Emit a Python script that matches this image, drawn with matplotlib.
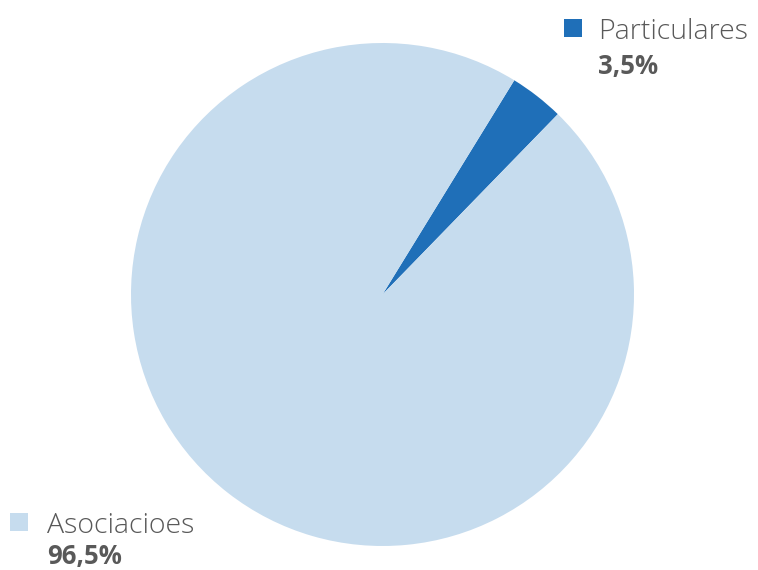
import matplotlib.pyplot as plt
from matplotlib.patches import Rectangle

labels = ['Particulares', 'Asociacioes']
shares = [3.5, 96.5]
pct_text = ['3,5%', '96,5%']
colors = ['#1f6fb8', '#c6dcee']

W, H = 758, 570
fig = plt.figure(figsize=(W / 100, H / 100), dpi=100)
ax = fig.add_axes([131 / W, 24 / H, 503 / W, 503 / H])
ax.pie(shares, colors=colors, startangle=58.4, counterclock=False,
       wedgeprops=dict(linewidth=0))
ax.set_xlim(-1, 1)
ax.set_ylim(-1, 1)
ax.set_aspect('equal')
ax.axis('off')

txt = '#595959'
# legend entries: (square x, square top y, text x, label baseline y, pct baseline y)
pos = [(564, 19, 598, 39, 74), (10, 513, 47, 533, 564)]
for (sx, sy, tx, ly, py), lab, pt, c in zip(pos, labels, pct_text, colors):
    fig.patches.append(Rectangle((sx / W, 1 - (sy + 18) / H), 18 / W, 18 / H,
                                 transform=fig.transFigure, color=c, lw=0))
    fig.text(tx / W, 1 - ly / H, lab, fontsize=20.5, color=txt,
             family='Open Sans', weight='light', va='baseline')
    fig.text(tx / W, 1 - py / H, pt, fontsize=18.5, color=txt,
             family='Open Sans', weight='bold', va='baseline')

fig.savefig('out.png', dpi=100)
